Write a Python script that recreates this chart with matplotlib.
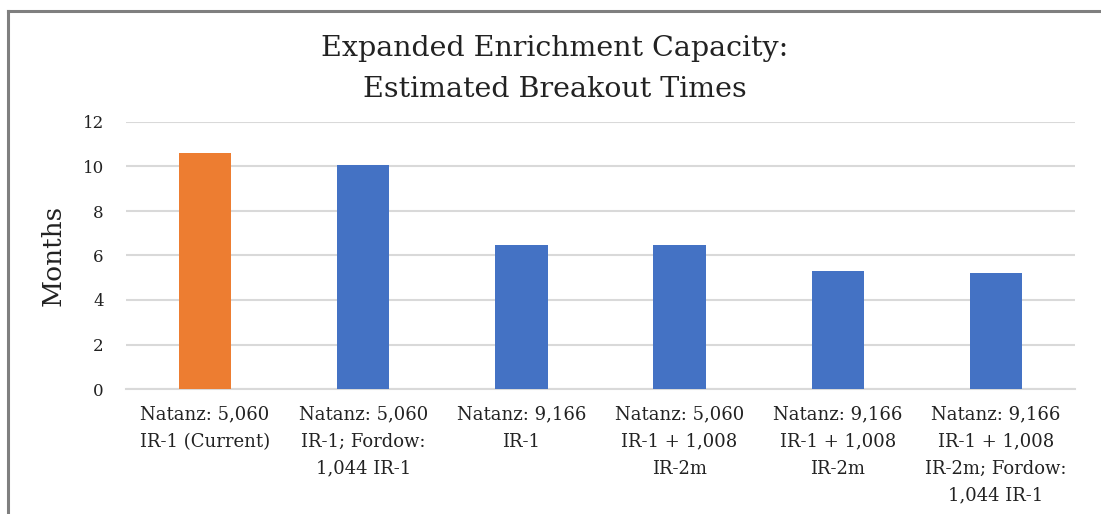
import matplotlib
matplotlib.use("Agg")
import matplotlib.pyplot as plt
from matplotlib.lines import Line2D

categories = [
    "Natanz: 5,060\nIR-1 (Current)",
    "Natanz: 5,060\nIR-1; Fordow:\n1,044 IR-1",
    "Natanz: 9,166\nIR-1",
    "Natanz: 5,060\nIR-1 + 1,008\nIR-2m",
    "Natanz: 9,166\nIR-1 + 1,008\nIR-2m",
    "Natanz: 9,166\nIR-1 + 1,008\nIR-2m; Fordow:\n1,044 IR-1",
]
months = [10.6, 10.05, 6.45, 6.45, 5.3, 5.2]
bar_colors = ["#ED7D31", "#4472C4", "#4472C4", "#4472C4", "#4472C4", "#4472C4"]
yticks = [0, 2, 4, 6, 8, 10, 12]

plt.rcParams['font.family'] = ['DejaVu Serif']

W, H = 1101, 514
fig = plt.figure(figsize=(W / 100, H / 100), dpi=100)
ax = fig.add_axes([126 / W, (H - 389) / H, 949 / W, 267 / H])

x = range(len(categories))
ax.bar(x, months, width=0.33, color=bar_colors, zorder=3)

ax.set_xlim(-0.5, len(categories) - 0.5)
ax.set_ylim(0, 12)
ax.set_yticks(yticks)
ax.set_yticklabels([str(v) for v in yticks], fontsize=12, color="#222222")
ax.set_xticks(list(x))
ax.set_xticklabels(categories, fontsize=13, color="#222222", linespacing=1.64)
ax.tick_params(axis="both", length=0)
ax.tick_params(axis="y", pad=16)
ax.tick_params(axis="x", pad=12)

ax.grid(axis="y", color="#d9d9d9", linewidth=1.5, zorder=0)
for s in ["top", "right", "left"]:
    ax.spines[s].set_visible(False)
ax.spines["bottom"].set_color("#d9d9d9")
ax.spines["bottom"].set_linewidth(1.5)

ax.set_ylabel("Months", fontsize=19, color="#222222")
ax.yaxis.set_label_coords((66 - 126) / 949, 0.5)

fig.text(0.504, (H - 69) / H, "Expanded Enrichment Capacity:\nEstimated Breakout Times",
         ha="center", va="center", fontsize=20.5, color="#222222", linespacing=1.64)

# frame around the chart (top and left edges visible)
fig.add_artist(Line2D([8 / W, 1.0], [1 - 11 / H, 1 - 11 / H], color="#7f7f7f", linewidth=2.2))
fig.add_artist(Line2D([8 / W, 8 / W], [0, 1 - 11 / H], color="#7f7f7f", linewidth=2.2))

fig.savefig("out.png", dpi=100)
